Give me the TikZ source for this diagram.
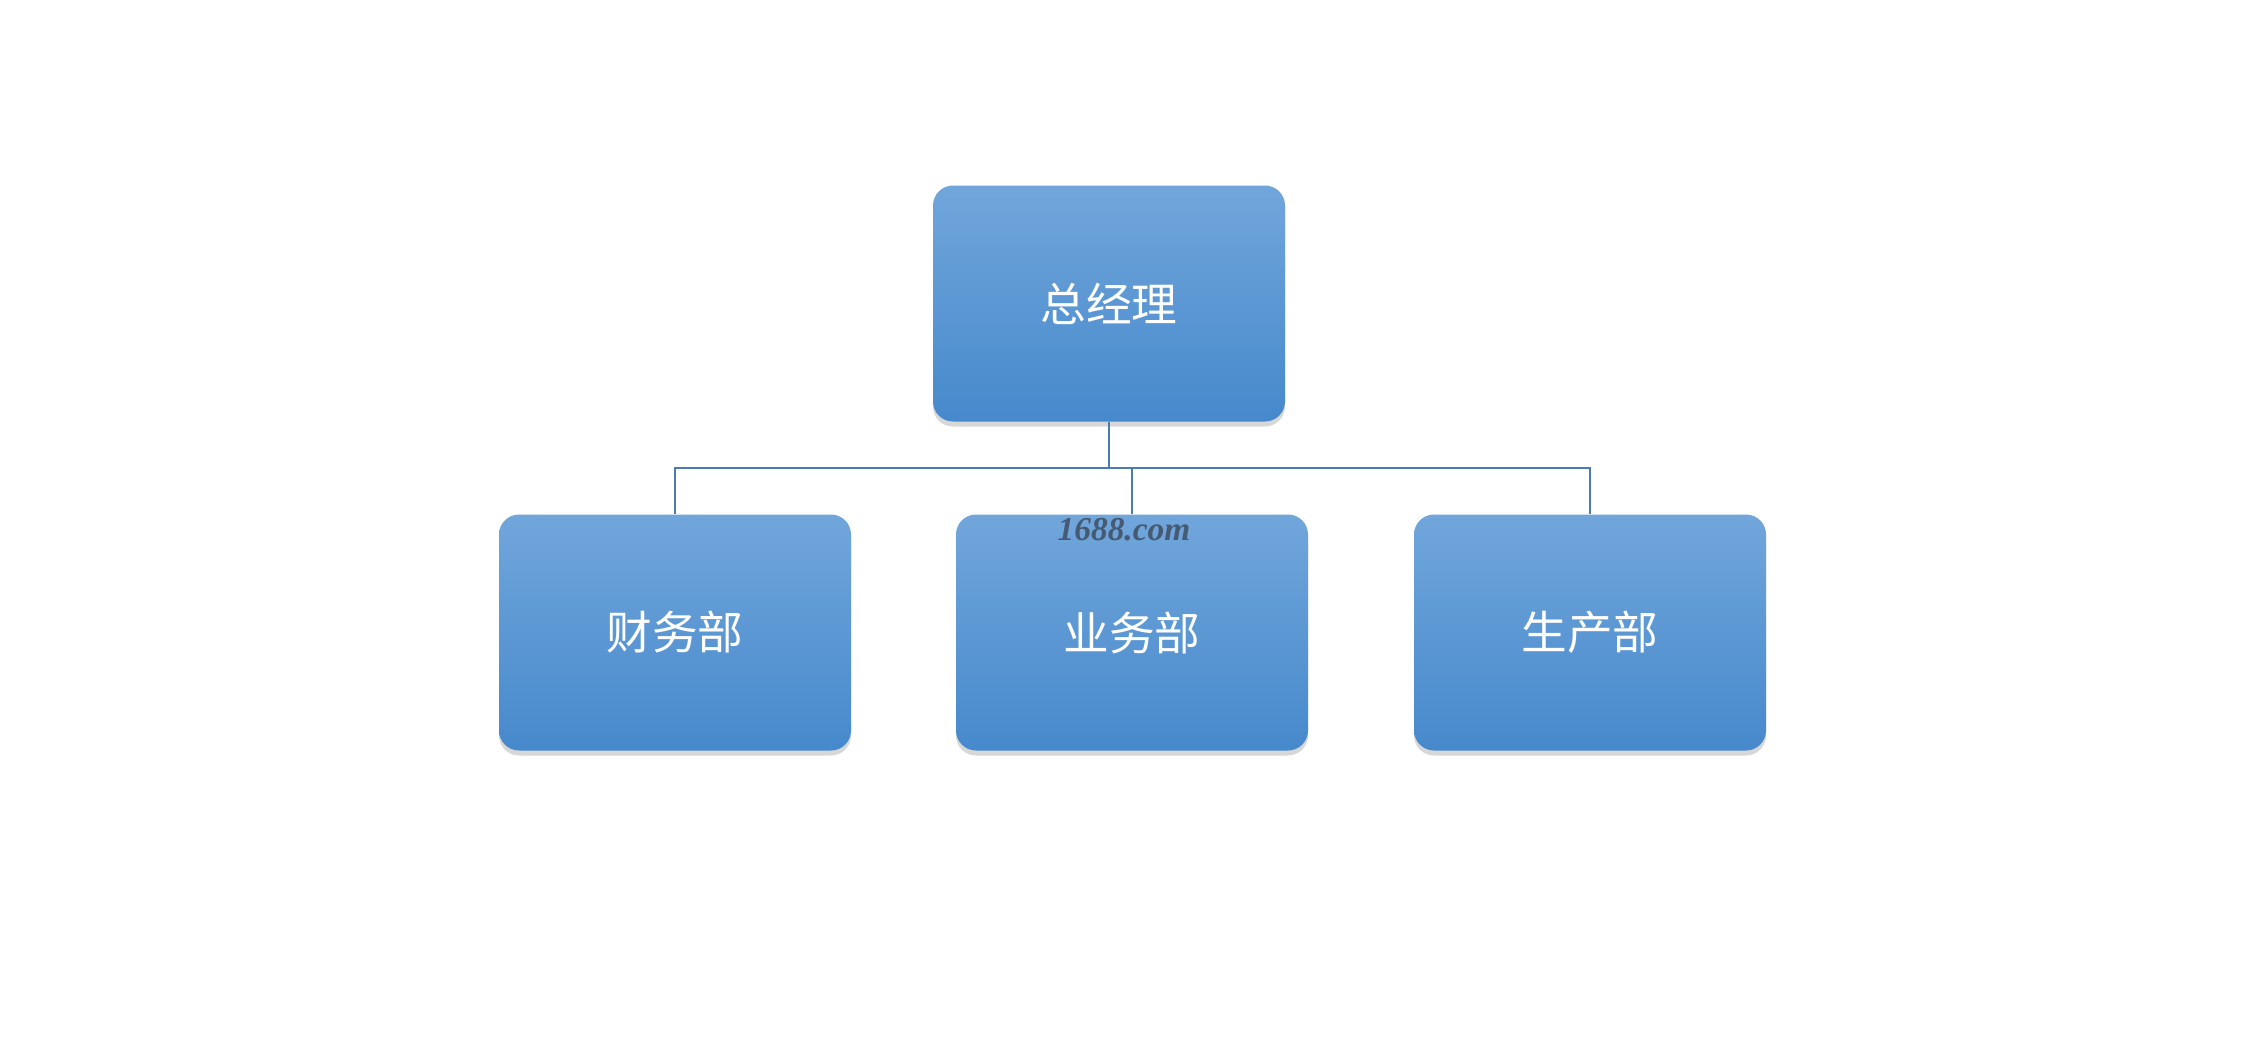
\documentclass[tikz,border=0pt]{standalone}
\usepackage{fontspec}
\setmainfont{Liberation Serif}
\newfontfamily\cjk{Noto Sans CJK SC}
\usepackage{tikz}
\usetikzlibrary{shapes}
\usetikzlibrary{positioning}
\usetikzlibrary{shadows}
\usetikzlibrary{calc}
\definecolor{boxtop}{RGB}{113,166,219}
\definecolor{boxbot}{RGB}{70,137,204}
\definecolor{linkcol}{RGB}{74,124,180}
\definecolor{markcol}{RGB}{70,90,115}
\tikzstyle{dept}=[
        rectangle,
        rounded corners=0.2cm,
        minimum width=3.52cm,
        minimum height=2.36cm,
        top color=boxtop,
        bottom color=boxbot,
        draw=none,
        text=white,
        font=\cjk\fontsize{13}{15}\selectfont,
        drop shadow={shadow xshift=0pt,shadow yshift=-0.05cm,opacity=0.22,fill=black!70}
]
\tikzstyle{link}=[draw=linkcol,line width=0.6pt]
\tikzstyle{wmark}=[text=markcol,font=\bfseries\itshape\fontsize{9.5}{11}\selectfont]
\begin{document}
\begin{tikzpicture}
\useasboundingbox[fill=white] (0,0) rectangle (22.47,10.55);
\node[dept] (zjl) at (11.09,7.515) {总经理};
\node[dept] (cwb) at (6.75,4.225) {财务部};
\node[dept] (ywb) at (11.32,4.225) {业务部};
\node[dept] (scb) at (15.90,4.225) {生产部};
\coordinate (bus) at (11.09,5.87);
%Connecteurs
\draw[link] (zjl.south) -- (bus);
\draw[link] (bus) -| (cwb.north);
\draw[link] (bus) -| (ywb.north);
\draw[link] (bus) -| (scb.north);
\node[wmark] (wm) at (11.24,5.25) {1688.com};
\end{tikzpicture}
\end{document}
